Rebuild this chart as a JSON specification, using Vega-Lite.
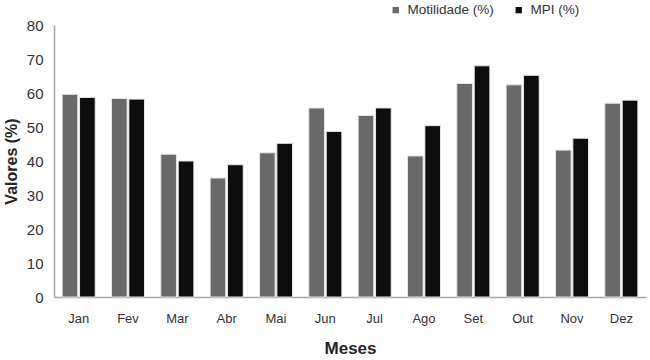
{
  "$schema": "https://vega.github.io/schema/vega-lite/v6.json",
  "autosize": "none",
  "width": 592,
  "height": 272,
  "padding": {"left": 54, "top": 25, "right": 4, "bottom": 63},
  "background": "white",
  "config": {
    "font": "Liberation Sans",
    "view": {"stroke": null}
  },
  "data": {
    "values": [
      {"mes": "Jan", "serie": "Motilidade (%)", "valor": 59.6},
      {"mes": "Jan", "serie": "MPI (%)", "valor": 58.7},
      {"mes": "Fev", "serie": "Motilidade (%)", "valor": 58.4},
      {"mes": "Fev", "serie": "MPI (%)", "valor": 58.2},
      {"mes": "Mar", "serie": "Motilidade (%)", "valor": 42.0},
      {"mes": "Mar", "serie": "MPI (%)", "valor": 40.0},
      {"mes": "Abr", "serie": "Motilidade (%)", "valor": 35.0},
      {"mes": "Abr", "serie": "MPI (%)", "valor": 38.9},
      {"mes": "Mai", "serie": "Motilidade (%)", "valor": 42.4},
      {"mes": "Mai", "serie": "MPI (%)", "valor": 45.2},
      {"mes": "Jun", "serie": "Motilidade (%)", "valor": 55.6},
      {"mes": "Jun", "serie": "MPI (%)", "valor": 48.7},
      {"mes": "Jul", "serie": "Motilidade (%)", "valor": 53.4},
      {"mes": "Jul", "serie": "MPI (%)", "valor": 55.6},
      {"mes": "Ago", "serie": "Motilidade (%)", "valor": 41.5},
      {"mes": "Ago", "serie": "MPI (%)", "valor": 50.4},
      {"mes": "Set", "serie": "Motilidade (%)", "valor": 62.8},
      {"mes": "Set", "serie": "MPI (%)", "valor": 68.0},
      {"mes": "Out", "serie": "Motilidade (%)", "valor": 62.4},
      {"mes": "Out", "serie": "MPI (%)", "valor": 65.2},
      {"mes": "Nov", "serie": "Motilidade (%)", "valor": 43.2},
      {"mes": "Nov", "serie": "MPI (%)", "valor": 46.7},
      {"mes": "Dez", "serie": "Motilidade (%)", "valor": 57.0},
      {"mes": "Dez", "serie": "MPI (%)", "valor": 57.9}
    ]
  },
  "mark": {"type": "bar", "stroke": "#e6e6e6", "strokeWidth": 1},
  "encoding": {
    "x": {
      "field": "mes",
      "type": "nominal",
      "sort": null,
      "scale": {"paddingInner": 0.33, "paddingOuter": 0.165},
      "axis": {
        "title": "Meses",
        "titleFontSize": 17,
        "titleFontWeight": "bold",
        "titleColor": "#262626",
        "titlePadding": 15,
        "labelAngle": 0,
        "labelFontSize": 13,
        "labelColor": "#333333",
        "labelPadding": 15,
        "ticks": false,
        "domainColor": "#a6a6a6",
        "domainWidth": 1.5,
        "grid": false
      }
    },
    "xOffset": {
      "field": "serie",
      "type": "nominal",
      "sort": ["Motilidade (%)", "MPI (%)"],
      "scale": {"paddingInner": 0.1}
    },
    "y": {
      "field": "valor",
      "type": "quantitative",
      "scale": {"domain": [0, 80], "nice": false},
      "axis": {
        "title": "Valores (%)",
        "titleFontSize": 16,
        "titleFontWeight": "bold",
        "titleColor": "#262626",
        "titlePadding": 7,
        "values": [0, 10, 20, 30, 40, 50, 60, 70, 80],
        "labelFontSize": 15,
        "labelColor": "#333333",
        "labelPadding": 11,
        "ticks": false,
        "domainColor": "#a6a6a6",
        "domainWidth": 1.5,
        "grid": false
      }
    },
    "color": {
      "field": "serie",
      "type": "nominal",
      "sort": ["Motilidade (%)", "MPI (%)"],
      "scale": {"domain": ["Motilidade (%)", "MPI (%)"], "range": ["#696969", "#0d0d0d"]},
      "legend": {
        "title": null,
        "orient": "none",
        "direction": "horizontal",
        "legendX": 335,
        "legendY": -22,
        "symbolType": "square",
        "symbolSize": 40,
        "symbolStrokeWidth": 0,
        "labelFontSize": 13.5,
        "labelColor": "#333333",
        "columnPadding": 18,
        "labelOffset": 5
      }
    }
  }
}
